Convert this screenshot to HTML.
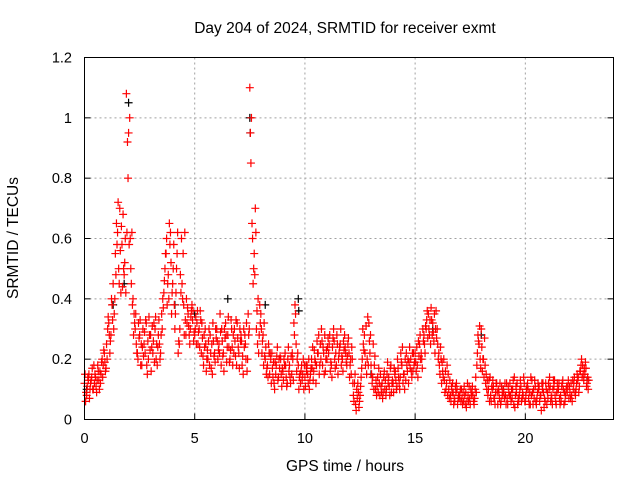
<!DOCTYPE html>
<html><head><meta charset="utf-8"><style>
body{margin:0;background:#fff;}
svg{display:block;font-family:"Liberation Sans",sans-serif;}
</style></head><body>
<svg id="chart" width="640" height="480" viewBox="0 0 640 480">
<rect width="640" height="480" fill="#fff"/>
<text x="345" y="33" font-size="15.5" text-anchor="middle">Day 204 of 2024, SRMTID for receiver exmt</text>
<text transform="translate(18,238) rotate(-90)" font-size="15.5" text-anchor="middle">SRMTID / TECUs</text>
<text x="345" y="471" font-size="15.5" text-anchor="middle">GPS time / hours</text>
<g id="grid"></g>
<g id="black"></g>
<g id="red"></g>
<rect x="84.5" y="57.5" width="529" height="362" fill="none" stroke="#000" stroke-width="1"/>
<g id="ticks"></g>
</svg>
<script>
const xTicks=[0,5,10,15,20];
const yTicks=[0,0.2,0.4,0.6,0.8,1,1.2];
const yTickLabels=["0","0.2","0.4","0.6","0.8","1","1.2"];
const step=0.1;
const starts=[0.0,0.05,0.025,0.075];
const seriesA=[
0.12,0.08,0.15,0.13,0.10,0.14,0.18,0.16,0.20,0.22,
0.25,0.32,0.28,0.45,0.55,0.62,0.70,0.58,0.48,1.08,
0.95,0.50,0.40,0.30,0.22,0.28,0.18,0.25,0.32,0.20,
0.28,0.22,0.30,0.18,0.25,0.35,0.42,0.55,0.48,0.62,
0.45,0.30,0.55,0.25,0.60,0.38,0.28,0.35,0.30,0.33,
0.28,0.32,0.30,0.22,0.18,0.25,0.20,0.28,0.15,0.22,
0.30,0.25,0.18,0.22,0.32,0.28,0.20,0.24,0.30,0.18,
0.22,0.28,0.15,0.25,0.20,1.10,0.65,0.55,0.30,0.22,
0.35,0.28,0.20,0.18,0.15,0.22,0.12,0.18,0.14,0.20,
0.16,0.22,0.12,0.18,0.15,0.32,0.25,0.18,0.12,0.15,
0.14,0.18,0.10,0.20,0.16,0.12,0.22,0.25,0.18,0.28,
0.20,0.25,0.18,0.30,0.22,0.15,0.25,0.20,0.28,0.18,
0.22,0.15,0.08,0.05,0.12,0.08,0.20,0.28,0.15,0.32,
0.18,0.25,0.10,0.14,0.08,0.12,0.16,0.10,0.14,0.18,
0.12,0.16,0.20,0.10,0.18,0.15,0.22,0.12,0.20,0.16,
0.22,0.18,0.25,0.20,0.28,0.30,0.35,0.25,0.32,0.22,
0.30,0.18,0.12,0.20,0.10,0.15,0.08,0.12,0.06,0.10,
0.07,0.10,0.06,0.09,0.08,0.05,0.11,0.07,0.18,0.25,
0.30,0.20,0.12,0.08,0.14,0.10,0.07,0.12,0.09,0.06,
0.10,0.08,0.05,0.12,0.07,0.14,0.09,0.06,0.11,0.08,
0.06,0.12,0.09,0.13,0.07,0.05,0.10,0.08,0.12,0.06,
0.09,0.14,0.07,0.11,0.05,0.10,0.08,0.13,0.06,0.09,
0.11,0.08,0.12,0.10,0.14,0.16,0.18,0.15,0.12];
const seriesB=[
0.06,0.14,0.10,0.17,0.12,0.09,0.13,0.15,0.18,0.16,
0.30,0.22,0.38,0.35,0.65,0.50,0.42,0.68,0.60,0.92,
1.00,0.62,0.35,0.25,0.32,0.18,0.30,0.22,0.15,0.28,
0.24,0.32,0.20,0.28,0.22,0.40,0.50,0.38,0.65,0.35,
0.58,0.42,0.22,0.48,0.40,0.62,0.32,0.28,0.36,0.26,
0.34,0.25,0.36,0.27,0.24,0.20,0.30,0.17,0.26,0.30,
0.20,0.35,0.26,0.30,0.19,0.24,0.33,0.28,0.21,0.27,
0.30,0.18,0.24,0.32,0.28,0.85,0.45,0.70,0.25,0.38,
0.22,0.32,0.15,0.25,0.20,0.14,0.19,0.24,0.17,0.11,
0.20,0.14,0.24,0.12,0.20,0.38,0.20,0.14,0.18,0.10,
0.18,0.12,0.15,0.24,0.20,0.26,0.15,0.30,0.22,0.20,
0.27,0.16,0.24,0.20,0.28,0.22,0.18,0.26,0.22,0.25,
0.18,0.20,0.12,0.10,0.04,0.14,0.25,0.18,0.34,0.22,
0.12,0.18,0.08,0.17,0.11,0.09,0.13,0.19,0.08,0.12,
0.17,0.10,0.14,0.22,0.12,0.20,0.16,0.24,0.14,0.18,
0.16,0.26,0.20,0.30,0.22,0.36,0.28,0.33,0.26,0.36,
0.20,0.24,0.16,0.09,0.18,0.07,0.11,0.05,0.09,0.07,
0.10,0.05,0.08,0.06,0.11,0.08,0.06,0.14,0.28,0.20,
0.16,0.27,0.10,0.13,0.06,0.11,0.09,0.05,0.12,0.08,
0.07,0.12,0.09,0.06,0.13,0.08,0.05,0.10,0.07,0.12,
0.10,0.07,0.14,0.05,0.11,0.09,0.06,0.12,0.04,0.10,
0.12,0.06,0.10,0.08,0.12,0.07,0.11,0.05,0.10,0.13,
0.07,0.13,0.09,0.15,0.11,0.20,0.13,0.17,0.10];
const seriesC=[
0.15,0.11,0.07,0.14,0.18,0.11,0.16,0.12,0.14,0.19,
0.20,0.28,0.40,0.30,0.48,0.72,0.56,0.44,0.52,0.62,
0.58,0.45,0.28,0.35,0.20,0.33,0.24,0.29,0.18,0.34,
0.16,0.26,0.34,0.24,0.20,0.30,0.46,0.60,0.40,0.52,
0.50,0.35,0.62,0.30,0.45,0.28,0.40,0.31,0.34,0.36,
0.30,0.36,0.24,0.32,0.28,0.16,0.26,0.22,0.32,0.19,
0.26,0.22,0.30,0.16,0.28,0.34,0.23,0.18,0.26,0.32,
0.17,0.26,0.30,0.20,0.35,0.95,0.60,0.48,0.36,0.28,
0.30,0.18,0.24,0.14,0.22,0.17,0.10,0.21,0.20,0.15,
0.13,0.18,0.20,0.14,0.22,0.28,0.16,0.10,0.16,0.20,
0.11,0.15,0.13,0.17,0.23,0.18,0.28,0.20,0.24,0.16,
0.24,0.28,0.14,0.26,0.18,0.20,0.30,0.16,0.24,0.21,
0.14,0.24,0.06,0.03,0.09,0.11,0.30,0.22,0.20,0.26,
0.15,0.10,0.13,0.09,0.15,0.07,0.10,0.15,0.11,0.09,
0.09,0.13,0.17,0.14,0.24,0.10,0.18,0.19,0.16,0.22,
0.19,0.14,0.28,0.17,0.25,0.33,0.30,0.37,0.29,0.30,
0.25,0.15,0.19,0.13,0.12,0.10,0.06,0.09,0.11,0.05,
0.08,0.07,0.11,0.04,0.06,0.10,0.08,0.10,0.22,0.31,
0.24,0.14,0.15,0.10,0.08,0.13,0.05,0.09,0.07,0.11,
0.09,0.05,0.11,0.08,0.10,0.04,0.12,0.08,0.06,0.14,
0.08,0.10,0.05,0.09,0.13,0.07,0.11,0.03,0.09,0.12,
0.07,0.11,0.05,0.13,0.09,0.12,0.06,0.10,0.08,0.11,
0.09,0.06,0.14,0.12,0.09,0.18,0.15,0.19,0.14];
const seriesD=[
0.09,0.13,0.12,0.10,0.15,0.13,0.10,0.19,0.23,0.17,
0.34,0.26,0.33,0.40,0.58,0.45,0.64,0.50,0.42,0.80,
0.60,0.38,0.32,0.22,0.27,0.25,0.21,0.33,0.26,0.23,
0.31,0.19,0.25,0.33,0.28,0.37,0.55,0.45,0.58,0.42,
0.38,0.50,0.26,0.42,0.55,0.33,0.37,0.25,0.38,0.29,
0.25,0.29,0.33,0.21,0.30,0.23,0.18,0.25,0.21,0.27,
0.23,0.29,0.21,0.27,0.24,0.19,0.30,0.22,0.33,0.24,
0.26,0.21,0.28,0.16,0.30,1.00,0.50,0.62,0.40,0.32,
0.26,0.21,0.17,0.22,0.12,0.19,0.15,0.13,0.21,0.17,
0.18,0.11,0.16,0.21,0.13,0.35,0.22,0.15,0.13,0.18,
0.16,0.20,0.17,0.13,0.19,0.22,0.18,0.26,0.15,0.23,
0.22,0.19,0.27,0.17,0.25,0.24,0.21,0.23,0.19,0.27,
0.20,0.12,0.15,0.07,0.06,0.17,0.23,0.31,0.18,0.28,
0.14,0.21,0.11,0.12,0.09,0.14,0.08,0.12,0.17,0.13,
0.15,0.11,0.12,0.19,0.15,0.13,0.20,0.17,0.22,0.19,
0.24,0.21,0.22,0.26,0.31,0.27,0.33,0.28,0.35,0.27,
0.22,0.20,0.14,0.16,0.08,0.13,0.09,0.07,0.12,0.08,
0.06,0.09,0.05,0.12,0.07,0.09,0.05,0.09,0.26,0.17,
0.20,0.18,0.13,0.06,0.11,0.07,0.12,0.10,0.05,0.09,
0.12,0.07,0.08,0.10,0.05,0.11,0.07,0.13,0.09,0.06,
0.11,0.05,0.08,0.10,0.06,0.12,0.08,0.10,0.07,0.05,
0.10,0.08,0.13,0.06,0.10,0.05,0.12,0.09,0.11,0.07,
0.12,0.10,0.08,0.13,0.16,0.14,0.17,0.11,0.13];
const blackTimes=[0.1,1.3,1.8,2.0,4.1,5.0,6.5,7.5,7.52,8.2,9.7,9.72,13.0,15.8,18.0,19.0,22.8];
const blackValues=[0.10,0.38,0.45,1.05,0.38,0.35,0.40,1.00,0.95,0.38,0.40,0.36,0.15,0.30,0.28,0.10,0.13];

const X0=84.5,X1=613.5,Y0=419.5,Y1=57.5,XMAX=24,YMAX=1.2;
function xs(t){return X0+(X1-X0)*t/XMAX;}
function ys(v){return Y0-(Y0-Y1)*v/YMAX;}
const NS="http://www.w3.org/2000/svg";
function mk(tag,attrs,parent){const e=document.createElementNS(NS,tag);for(const k in attrs)e.setAttribute(k,attrs[k]);parent.appendChild(e);return e;}
const grid=document.getElementById('grid'),ticks=document.getElementById('ticks');
xTicks.forEach(t=>{
  const x=xs(t);
  if(t>0){const g=mk('line',{x1:x,x2:x,y1:Y1,y2:Y0,stroke:'#a0a0a0','stroke-dasharray':'2,3'},grid);
  
  }
  const tk=mk('line',{x1:x,x2:x,y1:Y0,y2:Y0-6,stroke:'#000'},ticks);
  
  
  const tx=mk('text',{x:x,y:443,'font-size':'14.5','text-anchor':'middle'},ticks);
  tx.textContent=String(t);
  
  
});
yTicks.forEach((v,i)=>{
  const y=ys(v);
  if(v>0&&v<1.2){const g=mk('line',{x1:X0,x2:X1,y1:y,y2:y,stroke:'#a0a0a0','stroke-dasharray':'2,3'},grid);
  
  }
  const tk=mk('line',{x1:X0,x2:X0+6,y1:y,y2:y,stroke:'#000'},ticks);
  
  
  const tk2=mk('line',{x1:X1,x2:X1-6,y1:y,y2:y,stroke:'#000'},ticks);
  
  
  const tx=mk('text',{x:72,y:y+5,'font-size':'14.5','text-anchor':'end'},ticks);
  tx.textContent=yTickLabels[i];
  
  
});
function plus(t,v,color,parent,name){
  const x=xs(t),y=ys(v);
  const p=mk('path',{d:`M${x-4},${y}H${x+4}M${x},${y-4}V${y+4}`,stroke:color,'stroke-width':'1.2',fill:'none'},parent);
  
  
}
const black=document.getElementById('black'),red=document.getElementById('red');
blackTimes.forEach((t,i)=>plus(t,blackValues[i],'#000',black,'black-point'));
[seriesA,seriesB,seriesC,seriesD].forEach((s,k)=>{
  s.forEach((v,i)=>plus(starts[k]+i*step,v,'#ff0000',red,'red-point'));
});
</script>
</body></html>
